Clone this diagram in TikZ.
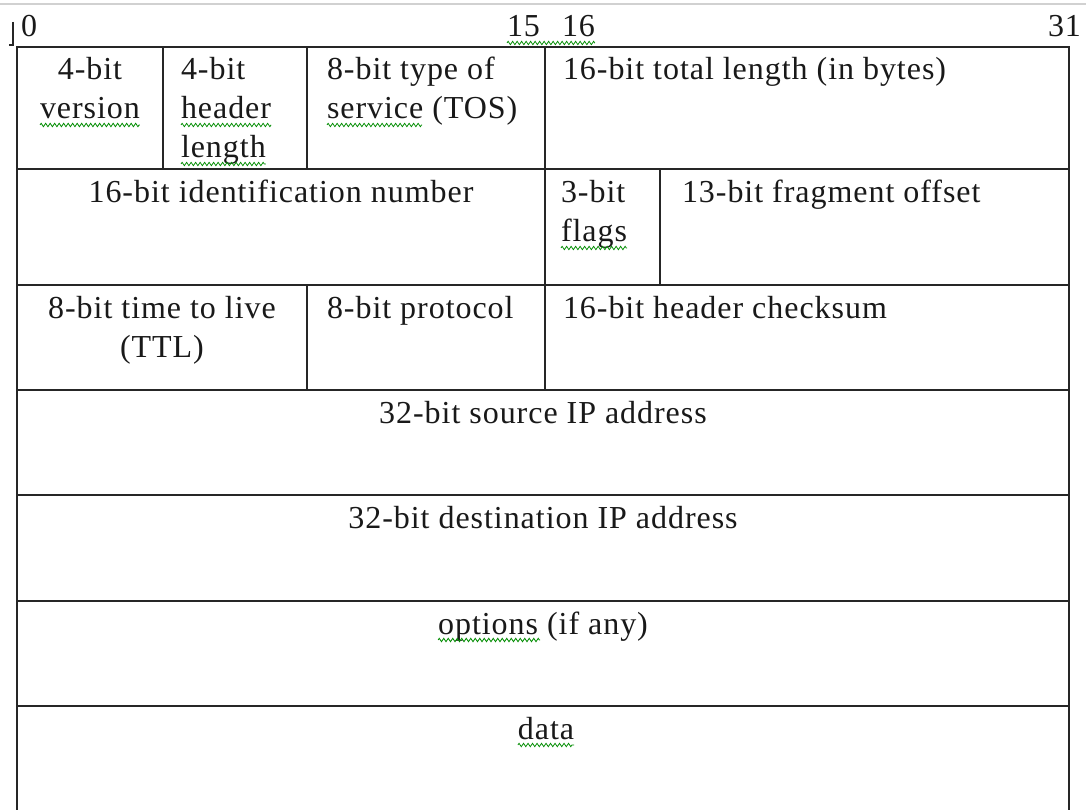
\documentclass[tikz,border=0pt]{standalone}
\usepackage{fontspec}
\setmainfont{Liberation Serif}[LetterSpace=3]
\usetikzlibrary{decorations.pathmorphing}
\begin{document}
\begin{tikzpicture}[x=1pt,y=-1pt,
  grid/.style={line width=1.6pt, draw=black!85, line cap=rect},
  lbl/.style={inner sep=0pt, outer sep=0pt, font=\fontsize{32}{38}\selectfont, text=black!90},
  squig/.style={draw=green!55!black, line width=0.8pt, decorate,
    decoration={zigzag, segment length=4.5pt, amplitude=1.7pt}}]
\useasboundingbox (0,0) rectangle (1086,810);
\clip (0,0) rectangle (1086,810);
\fill[white] (0,0) rectangle (1086,810);
% top gray window line
\draw[line width=2pt, draw=black!18] (0,4) -- (1086,4);
% small anchor mark
\draw[line width=1.2pt, draw=black!85] (13,22) -- (13,45) -- (9,45);

% bit position labels
\node[lbl, anchor=base west] (b0) at (21,37) {0};
\node[lbl, anchor=base west] (b15) at (507,37) {15};
\node[lbl, anchor=base west] (b16) at (562,37) {16};
\node[lbl, anchor=base east] (b31) at (1081,37) {31};

% table grid
\draw[grid] (17,47) -- (1069,47);
\foreach \yy in {169,285,390,495,601,706} \draw[grid] (17,\yy) -- (1069,\yy);
\draw[grid] (17,47) -- (17,820);
\draw[grid] (1069,47) -- (1069,820);
\draw[grid] (163,47) -- (163,169);
\draw[grid] (307,47) -- (307,169);
\draw[grid] (545,47) -- (545,285);
\draw[grid] (660,169) -- (660,285);
\draw[grid] (307,285) -- (307,390);
\draw[grid] (545,285) -- (545,390);

% row 1
\node[lbl, anchor=base] (v1) at (90,80) {4-bit};
\node[lbl, anchor=base] (v2) at (90,119) {version};
\node[lbl, anchor=base west] (h1) at (181,80) {4-bit};
\node[lbl, anchor=base west] (h2) at (181,119) {header};
\node[lbl, anchor=base west] (h3) at (181,158) {length};
\node[lbl, anchor=base west] (t1) at (327,80) {8-bit type of};
\node[lbl, anchor=base west] (t2) at (327,119) {service (TOS)};
\node[lbl, anchor=base west] (tl) at (563,80) {16-bit total length (in bytes)};

% row 2
\node[lbl, anchor=base] (id) at (281,203) {16-bit identification number};
\node[lbl, anchor=base west] (f1) at (561,203) {3-bit};
\node[lbl, anchor=base west] (f2) at (561,242) {flags};
\node[lbl, anchor=base west] (fo) at (682,203) {13-bit fragment offset};

% row 3
\node[lbl, anchor=base] (ttl1) at (162,318) {8-bit time to live};
\node[lbl, anchor=base] (ttl2) at (162,357) {(TTL)};
\node[lbl, anchor=base west] (pr) at (327,318) {8-bit protocol};
\node[lbl, anchor=base west] (cs) at (563,318) {16-bit header checksum};

% full-width rows
\node[lbl, anchor=base] (src) at (543,423) {32-bit source IP address};
\node[lbl, anchor=base] (dst) at (543,528) {32-bit destination IP address};
\node[lbl, anchor=base] (opt) at (543,634) {options (if any)};
\node[lbl, anchor=base] (dat) at (546,739) {data};

% spell-check squiggles
\draw[squig] ([yshift=-6pt]v2.base west) -- ([yshift=-6pt]v2.base east);
\draw[squig] ([yshift=-6pt]h2.base west) -- ([yshift=-6pt]h2.base east);
\draw[squig] ([yshift=-6pt]h3.base west) -- ([yshift=-6pt]h3.base east);
\draw[squig] ([yshift=-6pt]t2.base west) -- ([xshift=95pt,yshift=-6pt]t2.base west);
\draw[squig] ([yshift=-6pt]b15.base west) -- ([yshift=-6pt]b16.base east);
\draw[squig] ([yshift=-6pt]f2.base west) -- ([yshift=-6pt]f2.base east);
\draw[squig] ([yshift=-6pt]opt.base west) -- ([xshift=102pt,yshift=-6pt]opt.base west);
\draw[squig] ([yshift=-6pt]dat.base west) -- ([yshift=-6pt]dat.base east);
\end{tikzpicture}
\end{document}
